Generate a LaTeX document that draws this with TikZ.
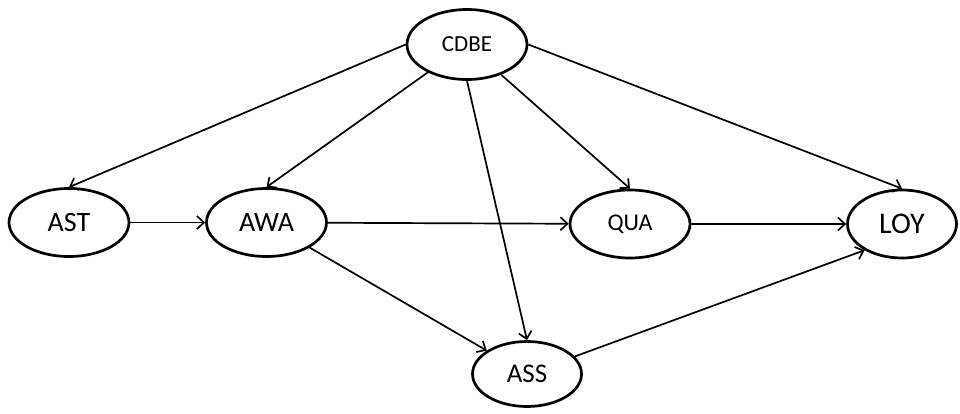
\documentclass[tikz,border=0pt]{standalone}
\usepackage{fontspec}
\setmainfont{Carlito}
\usetikzlibrary{arrows.meta, shapes.geometric}

\begin{document}
\begin{tikzpicture}[
  x=1pt, y=-1pt,
  var/.style={ellipse, draw, line width=2.7pt, minimum width=120pt, minimum height=68pt, inner sep=0pt},
  link/.style={-{Straight Barb[length=7pt,width=13pt]}, line width=1.7pt}
]
\useasboundingbox (0,0) rectangle (960,414);
% constructs
\node[var, minimum height=70pt, font=\fontsize{23}{27}\selectfont] (cdbe) at (467,44.5) {CDBE};
\node[var, font=\fontsize{28}{32}\selectfont] (ast) at (69,222.5) {AST};
\node[var, font=\fontsize{28}{32}\selectfont] (awa) at (266.5,222.5) {AWA};
\node[var, font=\fontsize{24}{28}\selectfont] (qua) at (630,224) {QUA};
\node[var, minimum width=109pt, font=\fontsize{30}{34}\selectfont] (loy) at (902,224) {LOY};
\node[var, minimum width=109pt, minimum height=65pt, font=\fontsize{27}{31}\selectfont] (ass) at (527,374) {ASS};
% paths from CDBE
\draw[link] (cdbe.west) -- (ast.north);
\draw[link] (cdbe) -- (awa.north);
\draw[link] (cdbe.south) -- (ass.north);
\draw[link] (cdbe) -- (qua.north);
\draw[link] (cdbe.east) -- (loy.north);
% other paths
\draw[link] (ast) -- (awa);
\draw[link] (awa) -- (qua);
\draw[link] (qua) -- (loy);
\draw[link] (awa) -- (ass);
\draw[link] (ass) -- (loy.215);
\end{tikzpicture}
\end{document}
